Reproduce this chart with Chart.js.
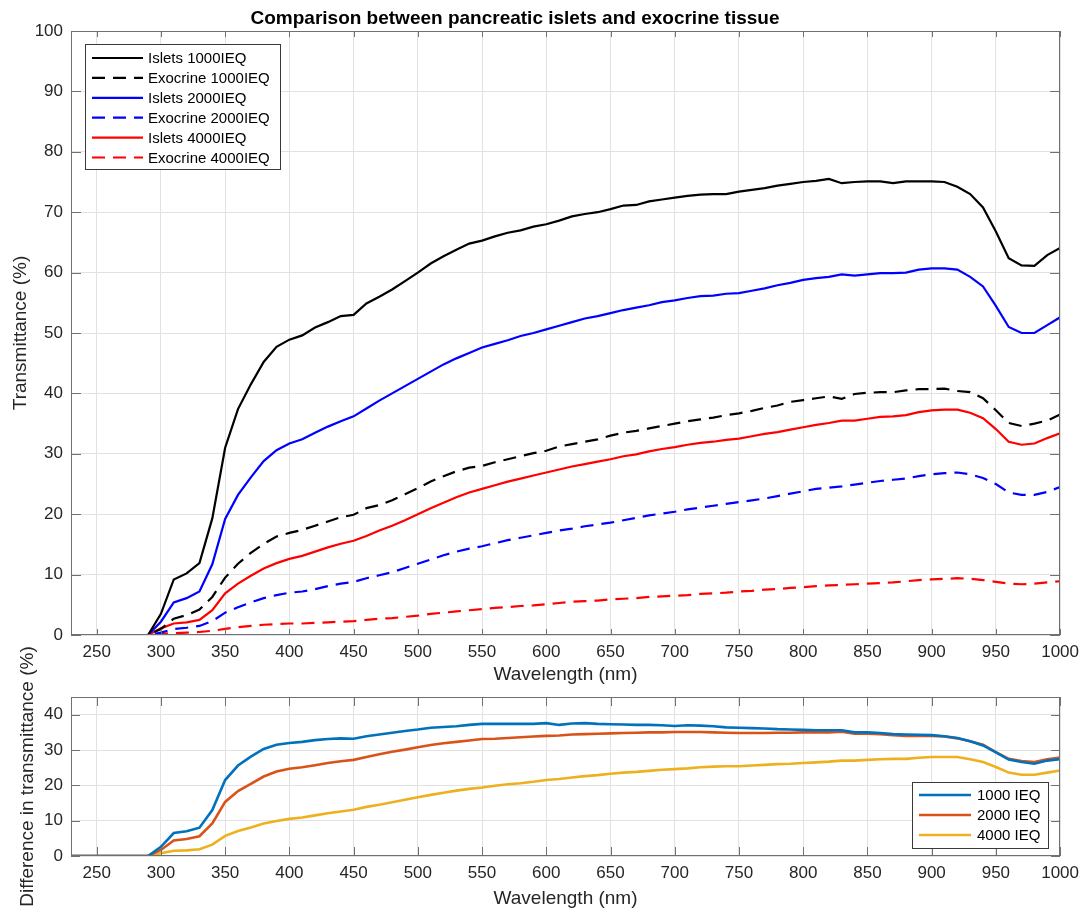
<!DOCTYPE html>
<html>
<head>
<meta charset="utf-8">
<title>Pancreatic islets vs exocrine tissue</title>
<script src="https://cdn.jsdelivr.net/npm/chart.js@4.4.1/dist/chart.umd.min.js"></script>
<style>
    html, body { margin: 0; padding: 0; background: #fff; }
    #wrap { position: relative; width: 1086px; height: 913px; }
    canvas { position: absolute; left: 0; }
    #ChTransmitancia { top: 0; }
    #ChDiferencia { top: 630px; }
</style>
</head>
<body>
<div id="wrap">
    <canvas id="ChTransmitancia" width="1086" height="690"></canvas>
    <canvas id="ChDiferencia" width="1086" height="283"></canvas>
</div>
<script>
// wavelength (nm), one sample every 10 nm
const Wavelength = [
    230, 240, 250, 260, 270, 280, 290,
    300, 310, 320, 330, 340, 350, 360, 370, 380, 390,
    400, 410, 420, 430, 440, 450, 460, 470, 480, 490,
    500, 510, 520, 530, 540, 550, 560, 570, 580, 590,
    600, 610, 620, 630, 640, 650, 660, 670, 680, 690,
    700, 710, 720, 730, 740, 750, 760, 770, 780, 790,
    800, 810, 820, 830, 840, 850, 860, 870, 880, 890,
    900, 910, 920, 930, 940, 950, 960, 970, 980, 990,
    1000
];

const TicksX = [250, 300, 350, 400, 450, 500, 550, 600, 650, 700, 750, 800, 850, 900, 950, 1000];
const TicksTransmitancia = [0, 10, 20, 30, 40, 50, 60, 70, 80, 90, 100];
const TicksDiferencia = [0, 10, 20, 30, 40];

// transmittance (%)
const Islets1000 = [
    0, 0, 0, 0, 0, 0, 0,
    3.5, 9.2, 10.2, 11.9, 19.3, 31.0, 37.4, 41.5, 45.2, 47.7,
    48.9, 49.6, 50.9, 51.8, 52.8, 53.0, 54.9, 56.0, 57.2, 58.6,
    60.0, 61.5, 62.7, 63.8, 64.8, 65.3, 66.0, 66.6, 67.0, 67.6,
    68.0, 68.6, 69.3, 69.7, 70.0, 70.5, 71.1, 71.2, 71.8, 72.1,
    72.4, 72.7, 72.9, 73.0, 73.0, 73.4, 73.7, 74.0, 74.4, 74.7,
    75.0, 75.2, 75.5, 74.8, 75.0, 75.1, 75.1, 74.8, 75.1, 75.1,
    75.1, 75.0, 74.2, 73.0, 70.8, 66.8, 62.4, 61.2, 61.1, 62.9,
    64.1
];
const Exocrine1000 = [
    0, 0, 0, 0, 0, 0, 0,
    1.0, 2.7, 3.3, 4.2, 6.3, 9.5, 11.8, 13.6, 15.1, 16.3,
    16.9, 17.4, 18.1, 18.8, 19.5, 19.9, 21.0, 21.5, 22.3, 23.3,
    24.3, 25.4, 26.3, 27.1, 27.7, 28.0, 28.6, 29.1, 29.6, 30.1,
    30.5, 31.2, 31.6, 32.0, 32.4, 33.0, 33.5, 33.8, 34.2, 34.6,
    35.0, 35.4, 35.7, 36.0, 36.4, 36.7, 37.1, 37.6, 38.0, 38.6,
    38.9, 39.2, 39.5, 39.1, 39.9, 40.1, 40.2, 40.2, 40.5, 40.7,
    40.7, 40.8, 40.4, 40.2, 39.2, 37.2, 35.1, 34.6, 35.0, 35.5,
    36.5
];
const Islets2000 = [
    0, 0, 0, 0, 0, 0, 0,
    2.2, 5.4, 6.1, 7.2, 11.7, 19.2, 23.2, 26.1, 28.8, 30.6,
    31.7, 32.4, 33.5, 34.5, 35.4, 36.2, 37.5, 38.8, 40.0, 41.2,
    42.4, 43.6, 44.8, 45.8, 46.7, 47.6, 48.2, 48.8, 49.5, 50.0,
    50.6, 51.2, 51.8, 52.4, 52.8, 53.3, 53.8, 54.2, 54.6, 55.1,
    55.4, 55.8, 56.1, 56.2, 56.5, 56.6, 57.0, 57.4, 57.9, 58.3,
    58.8, 59.1, 59.3, 59.7, 59.5, 59.7, 59.9, 59.9, 60.0, 60.5,
    60.7, 60.7, 60.5, 59.3, 57.7, 54.5, 51.0, 50.0, 50.0, 51.3,
    52.6
];
const Exocrine2000 = [
    0, 0, 0, 0, 0, 0, 0,
    0.4, 1.0, 1.2, 1.5, 2.3, 3.7, 4.6, 5.4, 6.1, 6.6,
    7.0, 7.2, 7.6, 8.1, 8.5, 8.8, 9.4, 9.9, 10.4, 11.1,
    11.8, 12.5, 13.2, 13.8, 14.3, 14.7, 15.2, 15.7, 16.1, 16.5,
    16.9, 17.3, 17.6, 18.0, 18.3, 18.6, 19.0, 19.4, 19.8, 20.1,
    20.4, 20.8, 21.1, 21.4, 21.7, 22.0, 22.3, 22.6, 23.0, 23.4,
    23.8, 24.2, 24.4, 24.6, 24.9, 25.2, 25.5, 25.7, 25.9, 26.3,
    26.6, 26.8, 26.9, 26.6, 26.0, 25.0, 23.6, 23.2, 23.2, 23.7,
    24.5
];
const Islets4000 = [
    0, 0, 0, 0, 0, 0, 0,
    1.1, 1.9, 2.1, 2.5, 4.1, 6.9, 8.5, 9.8, 11.0, 11.9,
    12.6, 13.1, 13.8, 14.5, 15.1, 15.6, 16.4, 17.3, 18.1, 19.0,
    20.0, 21.0, 21.9, 22.8, 23.6, 24.2, 24.8, 25.4, 25.9, 26.4,
    26.9, 27.4, 27.9, 28.3, 28.7, 29.1, 29.6, 29.9, 30.4, 30.8,
    31.1, 31.5, 31.8, 32.0, 32.3, 32.5, 32.9, 33.3, 33.6, 34.0,
    34.4, 34.8, 35.1, 35.5, 35.5, 35.8, 36.1, 36.2, 36.4, 36.9,
    37.2, 37.3, 37.3, 36.8, 35.9, 34.1, 32.0, 31.5, 31.7, 32.6,
    33.4
];
const Exocrine4000 = [
    0, 0, 0, 0, 0, 0, 0,
    0.2, 0.3, 0.4, 0.5, 0.7, 1.0, 1.3, 1.5, 1.7, 1.8,
    1.9, 1.9, 2.0, 2.1, 2.2, 2.3, 2.5, 2.7, 2.8, 3.0,
    3.2, 3.5, 3.7, 3.9, 4.1, 4.3, 4.5, 4.6, 4.8, 4.9,
    5.1, 5.3, 5.5, 5.6, 5.7, 5.9, 6.0, 6.1, 6.3, 6.4,
    6.5, 6.6, 6.8, 6.9, 7.0, 7.2, 7.3, 7.5, 7.6, 7.8,
    7.9, 8.1, 8.2, 8.3, 8.4, 8.5, 8.6, 8.7, 8.9, 9.1,
    9.2, 9.3, 9.4, 9.3, 9.1, 8.8, 8.5, 8.4, 8.5, 8.7,
    8.9
];

// difference islets - exocrine (%)
const Diff1000 = [
    0, 0, 0, 0, 0, 0, 0,
    2.6, 6.5, 7.0, 8.0, 13.0, 21.5, 25.6, 28.1, 30.3, 31.5,
    32.0, 32.3, 32.8, 33.1, 33.3, 33.2, 33.9, 34.4, 34.9, 35.4,
    35.8, 36.3, 36.5, 36.7, 37.1, 37.4, 37.4, 37.4, 37.4, 37.4,
    37.6, 37.1, 37.5, 37.6, 37.4, 37.3, 37.2, 37.1, 37.1, 37.0,
    36.8, 37.0, 36.9, 36.7, 36.4, 36.3, 36.2, 36.1, 35.9, 35.8,
    35.7, 35.6, 35.6, 35.6, 35.0, 35.0, 34.8, 34.5, 34.4, 34.3,
    34.2, 33.9, 33.4, 32.5, 31.3, 29.3, 27.3, 26.6, 26.1, 27.0,
    27.4
];
const Diff2000 = [
    0, 0, 0, 0, 0, 0, 0,
    1.7, 4.4, 4.8, 5.6, 9.2, 15.3, 18.4, 20.4, 22.5, 23.9,
    24.7, 25.1, 25.7, 26.3, 26.8, 27.2, 28.0, 28.8, 29.5, 30.1,
    30.8, 31.4, 31.9, 32.3, 32.7, 33.1, 33.2, 33.4, 33.6, 33.8,
    34.0, 34.1, 34.4, 34.5, 34.6, 34.7, 34.8, 34.9, 35.0, 35.0,
    35.1, 35.1, 35.1, 35.0, 34.9, 34.8, 34.8, 34.8, 34.9, 34.9,
    35.0, 35.0, 35.0, 35.2, 34.6, 34.6, 34.5, 34.2, 34.0, 34.0,
    34.0, 33.8, 33.3, 32.5, 31.5, 29.4, 27.5, 26.9, 26.6, 27.4,
    27.9
];
const Diff4000 = [
    0, 0, 0, 0, 0, 0, 0,
    0.8, 1.5, 1.6, 1.9, 3.2, 5.7, 7.1, 8.1, 9.2, 9.9,
    10.5, 10.9, 11.5, 12.1, 12.6, 13.1, 13.9, 14.5, 15.2, 15.9,
    16.6, 17.3, 17.9, 18.5, 19.0, 19.4, 19.9, 20.3, 20.6, 21.0,
    21.5, 21.8, 22.2, 22.6, 22.9, 23.3, 23.6, 23.8, 24.1, 24.4,
    24.6, 24.8, 25.1, 25.3, 25.4, 25.4, 25.6, 25.8, 26.0, 26.1,
    26.3, 26.5, 26.7, 27.0, 27.0, 27.2, 27.4, 27.5, 27.5, 27.8,
    28.0, 28.0, 28.0, 27.4, 26.6, 25.2, 23.6, 23.0, 23.0, 23.6,
    24.2
];

const FONT = '"Liberation Sans", Arial, Helvetica, sans-serif';
const TEXTO = '#262626';
const DASH = [13, 8];

Chart.defaults.font.family = FONT;
Chart.defaults.color = TEXTO;

const Puntos = (ys) => Wavelength.map((x, i) => ({ x: x, y: ys[i] }));

const Serie = (label, ys, color, width, dash) => ({
    label: label,
    data: Puntos(ys),
    borderColor: color,
    backgroundColor: color,
    borderWidth: width,
    borderDash: dash || [],
    pointRadius: 0,
    tension: 0,
    fill: false
});

// box around the axes with inward tick marks, like the MATLAB look
const Marco = {
    id: 'marco',
    afterDatasetsDraw: (chart, args, opts) => {
        const ctx = chart.ctx;
        const a = chart.chartArea;
        const sx = chart.scales.x;
        const sy = chart.scales.y;
        ctx.save();
        ctx.strokeStyle = opts.color;
        ctx.lineWidth = 1;
        ctx.beginPath();
        sx.ticks.forEach((t) => {
            const px = Math.round(sx.getPixelForValue(t.value)) + 0.5;
            ctx.moveTo(px, a.bottom);
            ctx.lineTo(px, a.bottom - opts.xLen);
            ctx.moveTo(px, a.top);
            ctx.lineTo(px, a.top + opts.xLen);
        });
        sy.ticks.forEach((t) => {
            const py = Math.round(sy.getPixelForValue(t.value)) + 0.5;
            ctx.moveTo(a.left, py);
            ctx.lineTo(a.left + opts.yLen, py);
            ctx.moveTo(a.right, py);
            ctx.lineTo(a.right - opts.yLen, py);
        });
        ctx.stroke();
        ctx.strokeRect(Math.round(a.left) + 0.5, Math.round(a.top) + 0.5,
            Math.round(a.width) - 1, Math.round(a.height) - 1);
        ctx.restore();
    }
};

// legend drawn in a fixed box inside the axes
const Leyenda = {
    id: 'leyenda',
    afterDraw: (chart, args, opts) => {
        const ctx = chart.ctx;
        ctx.save();
        ctx.fillStyle = '#ffffff';
        ctx.fillRect(opts.left, opts.top, opts.width, opts.height);
        ctx.strokeStyle = '#3a3a3a';
        ctx.lineWidth = 1;
        ctx.strokeRect(opts.left + 0.5, opts.top + 0.5, opts.width, opts.height);
        ctx.font = opts.fontSize + 'px ' + FONT;
        ctx.textBaseline = 'middle';
        ctx.textAlign = 'left';
        chart.data.datasets.forEach((ds, i) => {
            const y = opts.firstRow + i * opts.rowStep;
            ctx.strokeStyle = ds.borderColor;
            ctx.lineWidth = ds.borderWidth;
            ctx.setLineDash(ds.borderDash || []);
            ctx.beginPath();
            ctx.moveTo(opts.lineStart, y);
            ctx.lineTo(opts.lineEnd, y);
            ctx.stroke();
            ctx.setLineDash([]);
            ctx.fillStyle = '#000000';
            ctx.fillText(ds.label, opts.textX, y + 1);
        });
        ctx.restore();
    }
};

const Titulo = {
    id: 'titulo',
    afterDraw: (chart, args, opts) => {
        if (!opts.text) return;
        const ctx = chart.ctx;
        ctx.save();
        ctx.font = 'bold ' + opts.size + 'px ' + FONT;
        ctx.fillStyle = '#000000';
        ctx.textAlign = 'center';
        ctx.textBaseline = 'alphabetic';
        ctx.fillText(opts.text, opts.x, opts.y);
        ctx.restore();
    }
};

const EjeX = (height, titlePad) => ({
    type: 'linear',
    min: 230,
    max: 1000,
    afterBuildTicks: (s) => { s.ticks = TicksX.map((v) => ({ value: v })); },
    afterFit: (s) => { s.height = height; },
    grid: { color: '#e2e2e2', drawTicks: false },
    border: { display: false },
    ticks: {
        padding: 7, autoSkip: false, maxRotation: 0, color: TEXTO,
        font: { size: 17 },
        callback: (v) => String(v)
    },
    title: {
        display: true, text: 'Wavelength (nm)', color: TEXTO,
        font: { size: 19 }, padding: { top: 0, bottom: titlePad }
    }
});

const EjeY = (ticks, max, text, titlePad) => ({
    type: 'linear',
    min: 0,
    max: max,
    afterBuildTicks: (s) => { s.ticks = ticks.map((v) => ({ value: v })); },
    afterFit: (s) => { s.width = 71; },
    grid: { color: '#e2e2e2', drawTicks: false },
    border: { display: false },
    ticks: {
        padding: 8, color: TEXTO,
        font: { size: 17 },
        callback: (v) => String(v)
    },
    title: {
        display: true, text: text, color: TEXTO,
        font: { size: 19 }, padding: { top: titlePad, bottom: 0 }
    }
});

const InitTransmitancia = () => {
    const ctx = document.getElementById('ChTransmitancia');
    return new Chart(ctx, {
        type: 'line',
        data: {
            datasets: [
                Serie('Islets 1000IEQ', Islets1000, '#000000', 2.2),
                Serie('Exocrine 1000IEQ', Exocrine1000, '#000000', 2.2, DASH),
                Serie('Islets 2000IEQ', Islets2000, '#0000ff', 2.2),
                Serie('Exocrine 2000IEQ', Exocrine2000, '#0000ff', 2.2, DASH),
                Serie('Islets 4000IEQ', Islets4000, '#ff0000', 2.2),
                Serie('Exocrine 4000IEQ', Exocrine4000, '#ff0000', 2.2, DASH)
            ]
        },
        plugins: [Marco, Leyenda, Titulo],
        options: {
            responsive: false,
            animation: false,
            layout: { padding: { top: 31, right: 25, left: 0, bottom: 0 } },
            scales: {
                x: EjeX(55, 4),
                y: EjeY(TicksTransmitancia, 100, 'Transmittance (%)', 9)
            },
            plugins: {
                legend: { display: false },
                tooltip: { enabled: false },
                marco: { color: '#707070', xLen: 6, yLen: 10 },
                leyenda: {
                    left: 85, top: 44, width: 195, height: 125,
                    firstRow: 58, rowStep: 19.9,
                    lineStart: 92, lineEnd: 143, textX: 148, fontSize: 15
                },
                titulo: {
                    text: 'Comparison between pancreatic islets and exocrine tissue',
                    size: 19, x: 515, y: 24
                }
            }
        }
    });
};

// the lower canvas overlaps the upper one (transparent) so its long y title fits
const InitDiferencia = () => {
    const ctx = document.getElementById('ChDiferencia');
    return new Chart(ctx, {
        type: 'line',
        data: {
            datasets: [
                Serie('1000 IEQ', Diff1000, '#0072bd', 2.6),
                Serie('2000 IEQ', Diff2000, '#d95319', 2.6),
                Serie('4000 IEQ', Diff4000, '#edb120', 2.6)
            ]
        },
        plugins: [Marco, Leyenda],
        options: {
            responsive: false,
            animation: false,
            layout: { padding: { top: 67, right: 25, left: 0, bottom: 0 } },
            scales: {
                x: EjeX(57, 3),
                y: EjeY(TicksDiferencia, 45, 'Difference in transmittance (%)', 16)
            },
            plugins: {
                legend: { display: false },
                tooltip: { enabled: false },
                marco: { color: '#707070', xLen: 9, yLen: 9 },
                leyenda: {
                    left: 912, top: 152, width: 136, height: 66,
                    firstRow: 165, rowStep: 20,
                    lineStart: 919, lineEnd: 971, textX: 977, fontSize: 15
                }
            }
        }
    });
};

InitTransmitancia();
InitDiferencia();
</script>
</body>
</html>
